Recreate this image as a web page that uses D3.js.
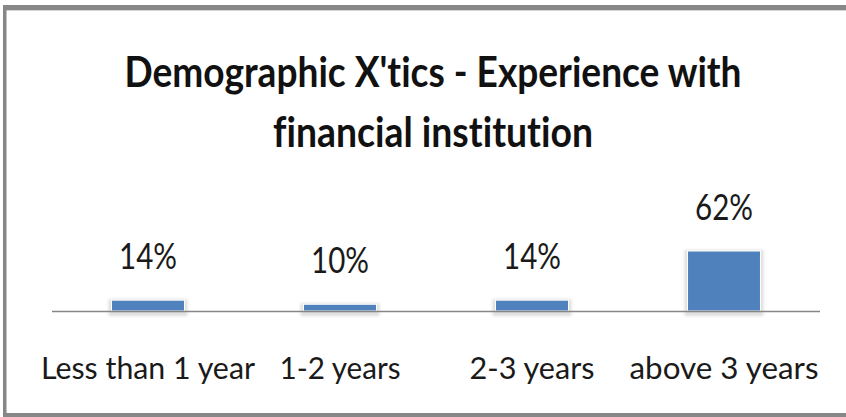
<!DOCTYPE html>
<html>
<head>
<meta charset="utf-8">
<script src="https://cdn.jsdelivr.net/npm/d3@7"></script>
<style>
  html, body { margin: 0; padding: 0; background: #fff; }
  svg { display: block; }
  text { font-variant-ligatures: none; font-feature-settings: "liga" 0, "clig" 0, "dlig" 0; }
</style>
</head>
<body>
<svg id="chart" width="846" height="417"></svg>
<script>
const titleLines = ["Demographic X'tics - Experience with", "financial institution"];
const categories = ["Less than 1 year", "1-2 years", "2-3 years", "above 3 years"];
const values = [14, 10, 14, 62];
const valueLabels = ["14%", "10%", "14%", "62%"];

const W = 846, H = 417;
const svg = d3.select("#chart");
const font = "Lato, 'Open Sans', 'Liberation Sans', sans-serif";

// frame
const frame = svg.append("g");
frame.append("rect").attr("x", 3).attr("y", 5).attr("width", W - 3).attr("height", 5).attr("fill", "#878787");
frame.append("rect").attr("x", 6).attr("y", 10).attr("width", W - 6).attr("height", 1).attr("fill", "#d4d4d4");
frame.append("rect").attr("x", 3).attr("y", 5).attr("width", 3.5).attr("height", H - 5).attr("fill", "#878787");
frame.append("rect").attr("x", 3).attr("y", 413).attr("width", W - 3).attr("height", 4).attr("fill", "#878787");

// title
const title = svg.append("text")
  .attr("text-anchor", "middle")
  .attr("font-family", font)
  .attr("font-weight", "bold")
  .attr("font-size", 42)
  .attr("fill", "#111");
title.selectAll("tspan").data(titleLines).join("tspan")
  .attr("x", 433)
  .attr("y", (d, i) => 87 + i * 60)
  .attr("textLength", (d, i) => i === 0 ? 617 : 320)
  .attr("lengthAdjust", "spacingAndGlyphs")
  .text(d => d);

// scales
const axisY = 311;
const x = d3.scaleBand().domain(categories).range([52, 820]).paddingInner(0.62).paddingOuter(0.31);
const y = d3.scaleLinear().domain([0, 62]).range([314.5, 251]);

// shadow filter
const defs = svg.append("defs");
const f = defs.append("filter").attr("id", "sh").attr("x", "-20%").attr("y", "-50%").attr("width", "140%").attr("height", "200%");
f.append("feGaussianBlur").attr("stdDeviation", 1.6);

const data = categories.map((c, i) => ({ c, v: values[i], l: valueLabels[i] }));

// bar shadows
svg.append("g").selectAll("rect").data(data).join("rect")
  .attr("x", d => x(d.c) - 3)
  .attr("y", d => y(d.v) - 1)
  .attr("width", x.bandwidth() + 6)
  .attr("height", d => axisY - y(d.v) + 6)
  .attr("fill", "#000")
  .attr("opacity", 0.13)
  .attr("filter", "url(#sh)");

// bars
svg.append("g").selectAll("rect").data(data).join("rect")
  .attr("x", d => x(d.c))
  .attr("y", d => y(d.v))
  .attr("width", x.bandwidth())
  .attr("height", d => axisY - y(d.v))
  .attr("fill", "#4F81BD")
  .attr("stroke", "#fff")
  .attr("stroke-width", 1);

// axis line
svg.append("line")
  .attr("x1", 52).attr("x2", 820)
  .attr("y1", axisY + 0.5).attr("y2", axisY + 0.5)
  .attr("stroke", "#868686").attr("stroke-width", 1.5);

// value labels
svg.append("g").selectAll("text").data(data).join("text")
  .attr("x", d => x(d.c) + x.bandwidth() / 2)
  .attr("y", d => y(d.v) - 31)
  .attr("text-anchor", "middle")
  .attr("font-family", font)
  .attr("font-size", 37)
  .attr("fill", "#1a1a1a")
  .attr("textLength", 58)
  .attr("lengthAdjust", "spacingAndGlyphs")
  .text(d => d.l);

// category labels
const catWidths = [214, 121, 125, 189];
svg.append("g").selectAll("text").data(data).join("text")
  .attr("x", d => x(d.c) + x.bandwidth() / 2)
  .attr("y", 379)
  .attr("text-anchor", "middle")
  .attr("font-family", font)
  .attr("font-size", 31)
  .attr("fill", "#1a1a1a")
  .attr("textLength", (d, i) => catWidths[i])
  .attr("lengthAdjust", "spacingAndGlyphs")
  .text(d => d.c);
</script>
</body>
</html>
